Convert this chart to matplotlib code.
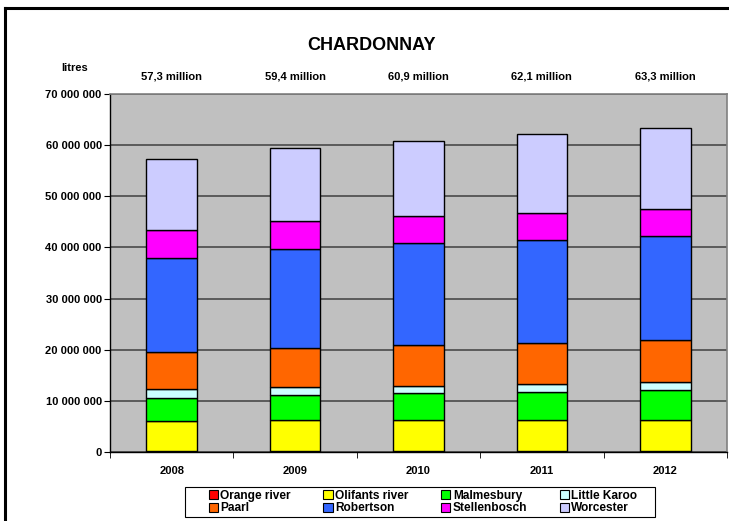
import matplotlib.pyplot as plt
import numpy as np
from matplotlib.patches import Patch, Rectangle
from matplotlib.lines import Line2D

plt.rcParams['font.family'] = ['Liberation Sans Narrow', 'Liberation Sans', 'DejaVu Sans']
plt.rcParams['font.weight'] = 'bold'

# Anni e regioni
years = ['2008', '2009', '2010', '2011', '2012']
regions = ['Orange river', 'Olifants river', 'Malmesbury', 'Little Karoo',
           'Paarl', 'Robertson', 'Stellenbosch', 'Worcester']
colors = ['#FF0000', '#FFFF00', '#00FF00', '#CCFFFF',
          '#FF6600', '#3366FF', '#FF00FF', '#CCCCFF']

# Valori in milioni di litri
orange_river = [0.25, 0.25, 0.25, 0.25, 0.25]
olifants_river = [5.8, 5.95, 6.1, 6.1, 6.1]
malmesbury = [4.55, 4.9, 5.1, 5.35, 5.7]
little_karoo = [1.65, 1.6, 1.55, 1.6, 1.65]
paarl = [7.35, 7.7, 8.0, 8.1, 8.15]
robertson = [18.3, 19.2, 19.8, 20.1, 20.35]
stellenbosch = [5.5, 5.5, 5.3, 5.3, 5.3]
worcester = [13.9, 14.3, 14.8, 15.3, 15.8]
totals = ['57,3 million', '59,4 million', '60,9 million', '62,1 million', '63,3 million']

series = [orange_river, olifants_river, malmesbury, little_karoo,
          paarl, robertson, stellenbosch, worcester]

fig = plt.figure(figsize=(7.29, 5.21), dpi=100)
ax = fig.add_axes([110/729, 1-452/521, 617/729, 358/521])
ax.set_facecolor('#C0C0C0')

x = np.arange(len(years))
bottom = np.zeros(len(years))
for name, vals, c in zip(regions, series, colors):
    v = np.array(vals)*1e6
    ax.bar(x, v, 0.41, bottom=bottom, color=c, edgecolor='black', linewidth=1.0, zorder=3)
    bottom += v

ax.set_xlim(-0.5, len(years)-0.5)
ax.set_ylim(0, 70e6)
ax.set_yticks(np.arange(0, 70e6+1, 10e6))
ax.set_yticklabels([f'{int(t):,}'.replace(',', ' ') for t in ax.get_yticks()], fontsize=8, fontweight='bold')
ax.yaxis.grid(True, color='#4a4a4a', linewidth=1.2, zorder=1)
ax.set_axisbelow(True)

ax.set_xticks(x)
ax.set_xticklabels(years, fontsize=8, fontweight='bold')
ax.tick_params(axis='x', which='major', length=0, pad=10)
ax.set_xticks(np.arange(len(years)+1)-0.5, minor=True)
ax.tick_params(axis='x', which='minor', length=4, direction='out')
ax.tick_params(axis='y', length=4, direction='out', pad=2)

for s in ['top', 'right']:
    ax.spines[s].set_color('#808080')
    ax.spines[s].set_linewidth(1.2)
for s in ['left', 'bottom']:
    ax.spines[s].set_color('black')
    ax.spines[s].set_linewidth(1.0)

# Totali sopra le barre
for i, t in enumerate(totals):
    ax.text(i, 1.048, t, transform=ax.get_xaxis_transform(), ha='center', va='center',
            fontsize=8, fontweight='bold')

fig.text(372/729, 1-45/521, 'CHARDONNAY', ha='center', va='center', fontsize=13, fontweight='bold')
fig.text(75/729, 1-68/521, 'litres', ha='center', va='center', fontsize=8, fontweight='bold')

# Cornice esterna
fig.add_artist(Line2D([5/729, 5/729], [0, 1-8/521], color='black', linewidth=2.2, transform=fig.transFigure))
fig.add_artist(Line2D([5/729, 1], [1-8/521, 1-8/521], color='black', linewidth=2.2, transform=fig.transFigure))

# Legenda (riquadro disegnato a parte)
fig.add_artist(Rectangle((185/729, 1-517/521), 470/729, 30/521, transform=fig.transFigure,
                         facecolor='white', edgecolor='black', linewidth=0.8))
handles = [Patch(facecolor=c, edgecolor='black', linewidth=0.8, label=r) for r, c in zip(regions, colors)]
order = [0, 4, 1, 5, 2, 6, 3, 7]
leg = fig.legend([handles[i] for i in order], [regions[i] for i in order],
                 loc='center', bbox_to_anchor=(423/729, 1-502/521), ncol=4,
                 fontsize=8.6, frameon=False,
                 handlelength=0.8, handleheight=0.8, handletextpad=0.2,
                 columnspacing=2.7, labelspacing=0.05, borderpad=0.0, borderaxespad=0)
for t in leg.get_texts():
    t.set_fontweight('bold')

plt.savefig('out.png', dpi=100)
